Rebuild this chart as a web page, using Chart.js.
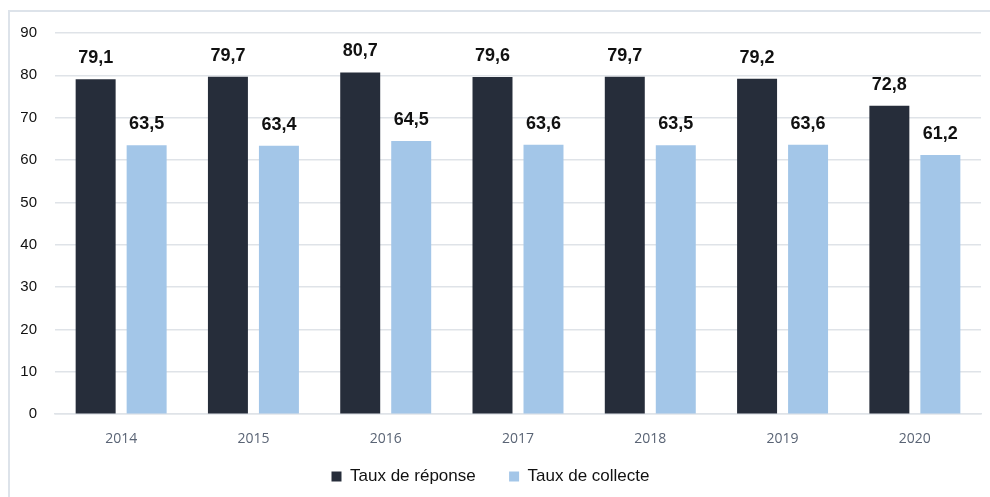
<!DOCTYPE html>
<html>
<head>
<meta charset="utf-8">
<script src="https://cdn.jsdelivr.net/npm/chart.js@4.4.0/dist/chart.umd.min.js"></script>
<style>
  body { margin: 0; background: #fff; }
  #wrap { position: relative; width: 990px; height: 497px; }
  #frame { position: absolute; left: 8px; top: 10px; right: 0; bottom: 0; border-left: 2px solid #dde3ea; border-top: 2px solid #dde3ea; }
  canvas { position: absolute; left: 0; top: 0; }
</style>
</head>
<body>
<div id="wrap">
  <div id="frame"></div>
  <canvas id="chart" width="990" height="497"></canvas>
</div>
<script>
const years = ["2014", "2015", "2016", "2017", "2018", "2019", "2020"]
const tauxReponse = [79.1, 79.7, 80.7, 79.6, 79.7, 79.2, 72.8]
const tauxCollecte = [63.5, 63.4, 64.5, 63.6, 63.5, 63.6, 61.2]
const yTicks = [0, 10, 20, 30, 40, 50, 60, 70, 80, 90]

// draws the value above each bar, with a comma as decimal mark
const barValues = {
    id: "barValues",
    afterDatasetsDraw(chart) {
        const ctx = chart.ctx
        ctx.save()
        ctx.font = "bold 18px 'Liberation Sans', Arial, sans-serif"
        ctx.fillStyle = "#111"
        ctx.textAlign = "center"
        ctx.textBaseline = "middle"
        chart.data.datasets.forEach((ds, i) => {
            chart.getDatasetMeta(i).data.forEach((bar, j) => {
                const txt = ds.data[j].toFixed(1).replace(".", ",")
                ctx.fillText(txt, bar.x, bar.y - 21)
            })
        })
        ctx.restore()
    }
}

const chartElement = document.getElementById("chart")
const chart = new Chart(chartElement, {
    type: "bar",
    data: {
        labels: years,
        datasets: [{
            label: "Taux de réponse",
            data: tauxReponse,
            backgroundColor: "#262d3a",
            categoryPercentage: 0.771,
            barPercentage: 0.784
        }, {
            label: "Taux de collecte",
            data: tauxCollecte,
            backgroundColor: "#a3c6e8",
            categoryPercentage: 0.771,
            barPercentage: 0.784
        }]
    },
    options: {
        responsive: false,
        animation: false,
        layout: {
            padding: { top: 33, right: 9, bottom: 2, left: 0 }
        },
        plugins: {
            tooltip: { enabled: false },
            legend: {
                position: "bottom",
                labels: {
                    boxWidth: 10,
                    boxHeight: 10,
                    padding: 13,
                    color: "#111",
                    font: { family: "'Liberation Sans', Arial, sans-serif", size: 17 },
                    generateLabels: (chart) => {
                        const items = Chart.defaults.plugins.legend.labels.generateLabels(chart)
                        // widen the gap between the two entries
                        items[0].text = items[0].text + "\u2003\u2009"
                        return items
                    }
                }
            }
        },
        scales: {
            x: {
                grid: { display: false },
                border: { display: true, color: "#dfe3e8", width: 1.5 },
                ticks: {
                    color: "#5a6475",
                    padding: 8,
                    font: { family: "'Open Sans', sans-serif", size: 14 }
                }
            },
            y: {
                min: 0,
                max: 90,
                afterBuildTicks: (scale) => { scale.ticks = yTicks.map(v => ({ value: v })) },
                afterFit: (scale) => { scale.width = 55 },
                border: { display: false },
                grid: { color: "#dfe3e8", lineWidth: 1.5, drawTicks: false },
                ticks: {
                    color: "#111",
                    padding: 18,
                    font: { family: "'Liberation Sans', Arial, sans-serif", size: 15 }
                }
            }
        }
    },
    plugins: [barValues]
})
</script>
</body>
</html>
